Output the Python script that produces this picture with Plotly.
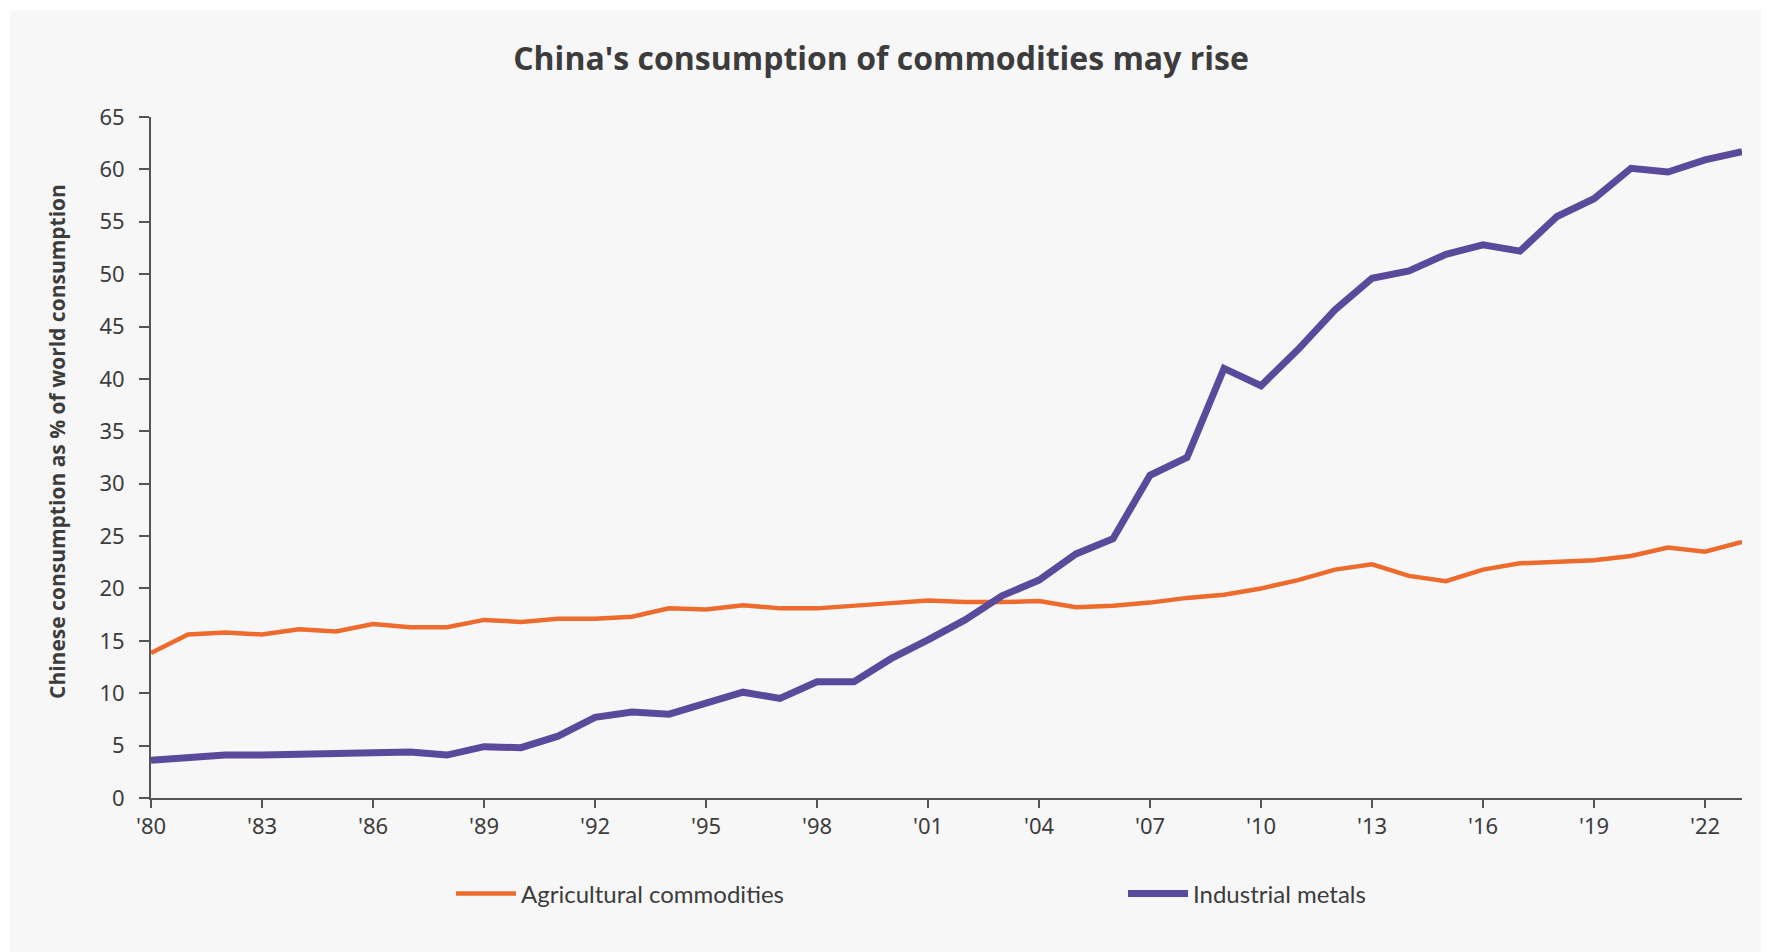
import plotly.graph_objects as go

years = [1980, 1981, 1982, 1983, 1984, 1985, 1986, 1987, 1988, 1989,
         1990, 1991, 1992, 1993, 1994, 1995, 1996, 1997, 1998, 1999,
         2000, 2001, 2002, 2003, 2004, 2005, 2006, 2007, 2008, 2009,
         2010, 2011, 2012, 2013, 2014, 2015, 2016, 2017, 2018, 2019,
         2020, 2021, 2022, 2023]

agricultural = [13.85, 15.6, 15.8, 15.6, 16.1, 15.9, 16.6, 16.3, 16.3, 17.0,
                16.8, 17.1, 17.1, 17.3, 18.1, 18.0, 18.4, 18.1, 18.1, 18.4,
                18.6, 18.85, 18.7, 18.7, 18.8, 18.2, 18.35, 18.65, 19.1, 19.4,
                20.0, 20.8, 21.8, 22.3, 21.2, 20.7, 21.8, 22.4, 22.5, 22.7,
                23.1, 23.9, 23.5, 24.45]

industrial = [3.6, 3.8, 4.1, 4.1, 4.2, 4.3, 4.3, 4.4, 4.1, 4.9,
              4.8, 5.9, 7.7, 8.2, 8.0, 9.0, 10.1, 9.5, 11.1, 11.1,
              13.3, 15.1, 17.0, 19.3, 20.8, 23.3, 24.75, 30.8, 32.5, 41.0,
              39.35, 42.8, 46.6, 49.6, 50.3, 51.9, 52.8, 52.2, 55.5, 57.2,
              60.1, 59.75, 60.9, 61.7]

x_tick_vals = [1980, 1983, 1986, 1989, 1992, 1995, 1998, 2001, 2004, 2007,
               2010, 2013, 2016, 2019, 2022]
x_tick_text = ["'80", "'83", "'86", "'89", "'92", "'95", "'98", "'01", "'04", "'07",
               "'10", "'13", "'16", "'19", "'22"]
y_tick_vals = [0, 5, 10, 15, 20, 25, 30, 35, 40, 45, 50, 55, 60, 65]

title_text = "China's consumption of commodities may rise"
y_title = "Chinese consumption as % of world consumption"
series_names = ["Agricultural commodities", "Industrial metals"]

ORANGE = "#EE6B2E"
PURPLE = "#5A4A9C"
TEXT = "#3c3c3c"
AXIS = "#555555"

# page body has an 8px margin; the figure is sized to fill the rest exactly
OFF = 8
W, H = 1769 - OFF, 952 - OFF
L, T = 151 - OFF, 117 - OFF
R = W - (1742 - OFF)
B = H - (798 - OFF)
pw = W - L - R
ph = H - T - B

fig = go.Figure()
fig.add_trace(go.Scatter(x=years, y=agricultural, mode="lines", name=series_names[0],
                         line=dict(color=ORANGE, width=4.5), legend="legend"))
fig.add_trace(go.Scatter(x=years, y=industrial, mode="lines", name=series_names[1],
                         line=dict(color=PURPLE, width=7), legend="legend2"))

# grey card behind the chart (thin white page border at top/left)
fig.add_shape(type="rect", xref="paper", yref="paper", layer="below",
              x0=(2 - L) / pw, x1=(W + 5 - L) / pw,
              y0=-(B + 5) / ph, y1=(T + ph - 2) / ph,
              fillcolor="#f7f7f7", line=dict(width=0))

# y-axis title
fig.add_annotation(text="<b>" + y_title + "</b>", textangle=-90,
                   xref="paper", yref="paper",
                   x=(57 - 151) / pw, y=(798 - 442) / ph,
                   xanchor="center", yanchor="middle", showarrow=False,
                   font=dict(family="Open Sans", size=21, color=TEXT))

legend_common = dict(orientation="h", xref="container", yref="container",
                     xanchor="left", yanchor="middle", y=1 - (894 - OFF) / H,
                     bgcolor="rgba(0,0,0,0)", itemwidth=60,
                     font=dict(family="Lato", size=24, color=TEXT))

fig.update_layout(
    template="none",
    width=W, height=H,
    margin=dict(l=L, r=R, t=T, b=B, autoexpand=False),
    paper_bgcolor="white",
    plot_bgcolor="white",
    font=dict(family="Noto Sans, sans-serif", color=TEXT, size=20),
    title=dict(text="<b>" + title_text + "</b>", x=(881 - OFF) / W, xanchor="center",
               xref="container", yref="container",
               y=1 - (59 - OFF) / H, yanchor="middle",
               font=dict(family="Open Sans", size=32, color=TEXT)),
    showlegend=True,
    legend=dict(legend_common, x=(451 - OFF) / W),
    legend2=dict(legend_common, x=(1123 - OFF) / W),
    xaxis=dict(range=[1980, 2023], tickmode="array", tickvals=x_tick_vals,
               ticktext=x_tick_text, showgrid=False, zeroline=False,
               showline=True, linecolor=AXIS, linewidth=2, automargin=False,
               ticks="outside", ticklen=8, tickcolor=AXIS, tickwidth=1.5,
               ticklabelstandoff=0,
               tickfont=dict(family="Noto Sans", size=22, color=TEXT)),
    yaxis=dict(range=[0, 65], tickmode="array", tickvals=y_tick_vals,
               showgrid=False, zeroline=False, automargin=False,
               showline=True, linecolor=AXIS, linewidth=2,
               ticks="outside", ticklen=10, tickcolor=AXIS, tickwidth=1.5,
               ticklabelstandoff=10,
               tickfont=dict(family="Noto Sans", size=22, color=TEXT)),
)

fig.write_html("out.html")
